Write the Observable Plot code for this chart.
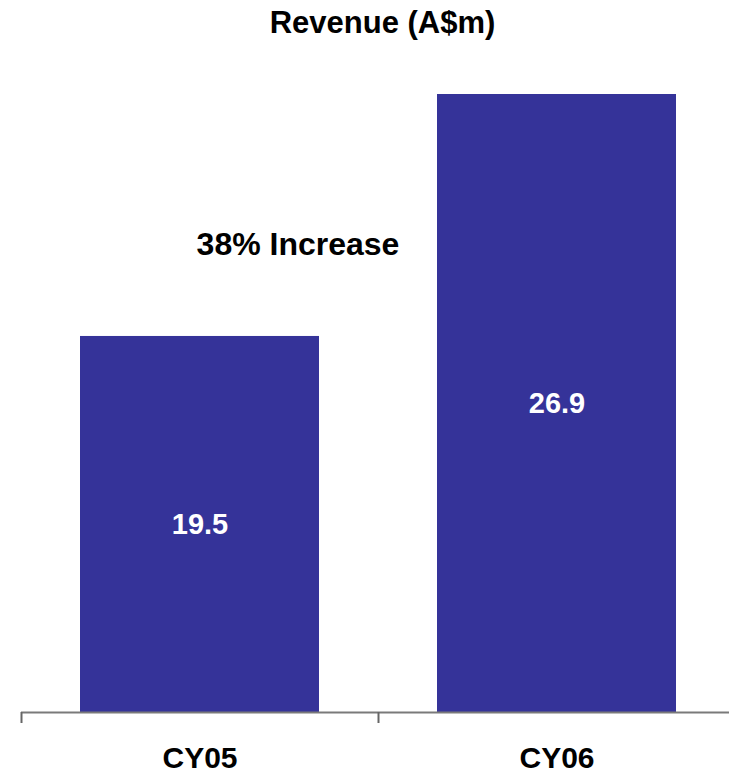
<!DOCTYPE html>
<html>
<head>
<meta charset="utf-8">
<script src="https://cdn.jsdelivr.net/npm/d3@7"></script>
<script src="https://cdn.jsdelivr.net/npm/@observablehq/plot@0.6"></script>
<style>
  html, body { margin: 0; padding: 0; background: #fff; overflow: hidden; }
  #title {
    width: 729px; height: 46px; padding-top: 8px; padding-left: 36px; box-sizing: border-box;
    font-family: Arial, "Liberation Sans", sans-serif; font-weight: bold;
    font-size: 31px; line-height: 30px; text-align: center; color: #000;
  }
  svg { display: block; }
</style>
</head>
<body>
<div id="title">Revenue (A$m)</div>
<div id="chart"></div>
<script>
const categories = ["CY05", "CY06"];
const revenue = [19.5, 26.9];
const annotationText = "38% Increase";
const annotationValue = 22.3;

const data = categories.map((c, i) => ({cat: c, value: revenue[i]}));
const yMin = 8;

const width = 729, height = 730;
const marginLeft = 21, marginRight = -6, marginTop = 48, marginBottom = 64;
const step = (width - marginLeft - marginRight) / categories.length;
const font = 'Arial, "Liberation Sans", sans-serif';

const chart = Plot.plot({
  width, height, marginLeft, marginRight, marginTop, marginBottom,
  style: {fontFamily: font, background: "#fff", overflow: "visible"},
  x: {domain: categories, paddingInner: 0.33, paddingOuter: 0.165, axis: null, label: null},
  y: {domain: [yMin, d3.max(revenue)], axis: null},
  marks: [
    Plot.barY(data, {x: "cat", y1: yMin, y2: "value", fill: "#353399"}),
    Plot.ruleY([yMin], {stroke: "#7a7a7a", strokeWidth: 2}),
    Plot.axisX({tickSize: 11, tickFormat: () => "", label: null, dx: -step / 2, stroke: "#666", strokeWidth: 2, strokeOpacity: 1}),
    Plot.text(data, {x: "cat", y: d => (yMin + d.value) / 2, text: d => d.value.toFixed(1),
      fill: "#fff", fontSize: 29, fontWeight: "bold"}),
    Plot.text(categories, {x: d => d, y: yMin, dy: 46, text: d => d,
      fill: "#000", fontSize: 30, fontWeight: "bold"}),
    Plot.text([annotationText], {x: () => categories[0], y: annotationValue, dx: 98, text: d => d,
      fill: "#000", fontSize: 32, fontWeight: "bold"})
  ]
});
document.getElementById("chart").appendChild(chart);
</script>
</body>
</html>
